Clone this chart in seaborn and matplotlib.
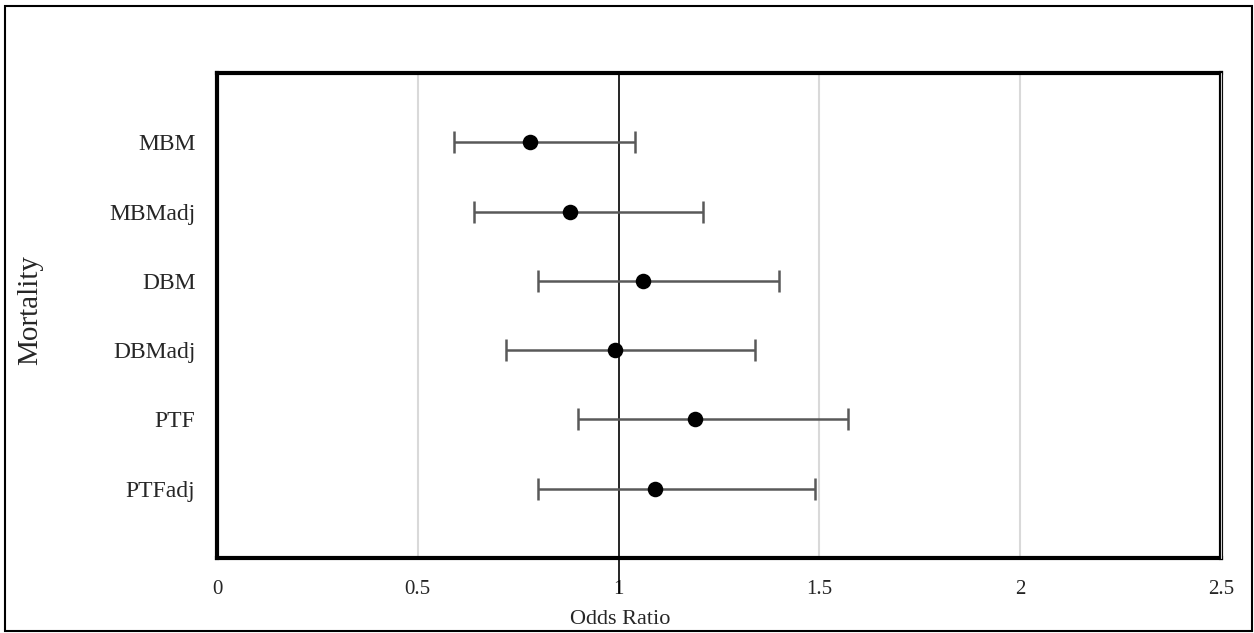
import numpy as np
import pandas as pd
import matplotlib
matplotlib.use("Agg")
import matplotlib.pyplot as plt
import seaborn as sns
from matplotlib.patches import Rectangle

# Data
labels = ["MBM", "MBMadj", "DBM", "DBMadj", "PTF", "PTFadj"]
odds = [0.78, 0.88, 1.06, 0.99, 1.19, 1.09]
ci_low = [0.59, 0.64, 0.80, 0.72, 0.90, 0.80]
ci_high = [1.04, 1.21, 1.40, 1.34, 1.57, 1.49]
xticks = [0, 0.5, 1, 1.5, 2, 2.5]
xtick_labels = ["0", "0.5", "1", "1.5", "2", "2.5"]

df = pd.DataFrame({"label": labels, "odds": odds, "lo": ci_low, "hi": ci_high})

sns.set_style("white")
plt.rcParams["font.family"] = ["Liberation Serif", "DejaVu Serif"]

fig = plt.figure(figsize=(12.54, 6.33), dpi=100)
ax = fig.add_axes([217 / 1254, 1 - 558 / 633, (1221 - 217) / 1254, (558 - 73) / 633])

# Gridlines at 0.5, 1.5, 2
for g in [0.5, 1.5, 2]:
    ax.axvline(g, color="#d9d9d9", linewidth=1.5, zorder=0)

# Reference line at 1, running a bit below the axes
ax.plot([1, 1], [-1, 6.5], color="black", linewidth=1.2, clip_on=False, zorder=1)

# Confidence intervals
ax.errorbar(df["odds"], df["label"],
            xerr=[df["odds"] - df["lo"], df["hi"] - df["odds"]],
            fmt="none", ecolor="#595959", elinewidth=1.8, capsize=8, capthick=1.8, zorder=2)

# Point estimates
sns.scatterplot(data=df, x="odds", y="label", color="black", s=125,
                edgecolor="black", linewidth=0, ax=ax, zorder=3)

ax.set_xlim(0, 2.5)
ax.set_ylim(6, -1)
ax.set_xticks(xticks)
ax.set_xticklabels(xtick_labels, fontsize=15)
ax.tick_params(axis="x", length=0, pad=16)
ax.tick_params(axis="y", length=0, pad=15.5, labelsize=17)
for lab in ax.get_yticklabels():
    lab.set_fontsize(17)

ax.set_xlabel("")
ax.set_ylabel("")
fig.text(620 / 1254, 1 - 619 / 633, "Odds Ratio", ha="center", va="center", fontsize=16)
fig.text(30 / 1254, 1 - 310 / 633, "Mortality", ha="center", va="center",
         rotation=90, fontsize=21)

for side in ["top", "bottom", "left", "right"]:
    ax.spines[side].set_visible(True)
    ax.spines[side].set_color("black")
    ax.spines[side].set_linewidth(3)

# Thin light strip inside the right border, as in the original
ax.plot([1.0, 1.0], [0, 1], transform=ax.transAxes, color="#d0d0d0",
        linewidth=0.8, clip_on=False, zorder=5)

# Outer border around the whole chart
fig.patches.append(Rectangle((5 / 1254, 2 / 633), 1247 / 1254, 625 / 633,
                             transform=fig.transFigure, fill=False,
                             edgecolor="black", linewidth=1.5))

fig.savefig("out.png", dpi=100)
